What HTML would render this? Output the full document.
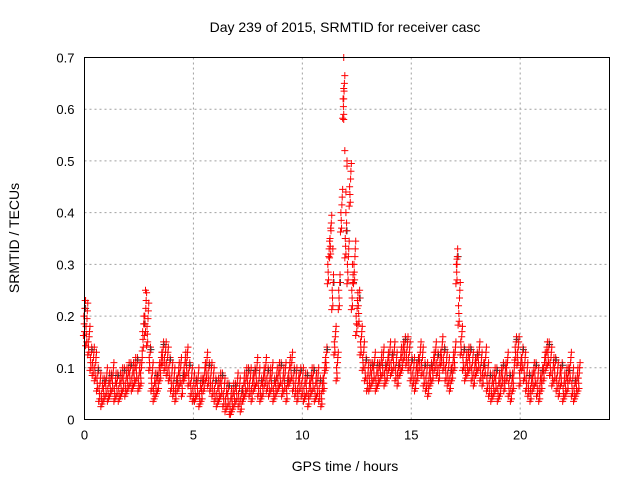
<!DOCTYPE html>
<html><head><meta charset="utf-8"><style>
body{margin:0;background:#fff}
svg{display:block;font-family:"Liberation Sans",sans-serif}
</style></head><body>
<svg id="chart" width="640" height="480">
<text x="345" y="32" text-anchor="middle" font-size="14">Day 239 of 2015, SRMTID for receiver casc</text>
<text transform="translate(19,238) rotate(-90)" text-anchor="middle" font-size="14">SRMTID / TECUs</text>
<text x="345" y="471" text-anchor="middle" font-size="14">GPS time / hours</text>
<g id="grid"></g>
<g id="ticks"></g>
<g id="marks"></g>
<rect x="84.5" y="57.5" width="525" height="362" fill="none" stroke="#000"/>
</svg>
<script>
const xTicks=[0,5,10,15,20];
const yTicks=[0,0.1,0.2,0.3,0.4,0.5,0.6,0.7];
const yTickLabels=["0","0.1","0.2","0.3","0.4","0.5","0.6","0.7"];
const timeStep=0.1;
const srmtid=[0.20,0.18,0.15,0.12,0.11,0.10,
0.08,0.06,0.05,0.06,0.07,
0.06,0.07,0.08,0.06,0.07,0.06,0.07,0.08,0.07,0.08,
0.09,0.08,0.09,0.10,0.08,0.09,
0.17,0.20,0.18,0.12,
0.08,0.06,0.07,0.08,0.10,
0.13,0.12,0.11,0.10,0.08,
0.07,0.06,0.08,0.09,0.07,0.10,0.11,0.09,0.07,0.06,
0.06,0.07,0.05,0.06,0.08,0.10,0.09,0.08,0.07,0.06,
0.05,0.06,0.07,0.05,0.04,0.05,0.03,0.04,0.05,0.06,
0.05,0.04,0.06,0.07,0.08,0.07,0.06,0.08,0.09,0.07,
0.06,0.07,0.09,0.08,0.07,0.08,0.06,0.07,0.08,0.09,
0.07,0.08,0.06,0.09,0.10,0.08,0.07,0.06,0.08,0.07,
0.06,0.07,0.05,0.07,0.08,0.06,0.07,0.06,0.05,0.08,
0.12,0.30,0.35,0.25,0.15,0.10,
0.25,0.40,0.62,0.35,
0.30,0.45,0.25,0.30,0.20,
0.22,0.15,0.12,0.10,0.08,
0.08,0.09,0.10,0.08,0.09,0.10,0.11,0.09,0.10,0.12,
0.11,0.12,0.10,0.09,0.11,0.12,0.14,0.13,0.12,0.10,
0.09,0.08,0.10,0.12,0.11,0.09,0.08,0.07,0.09,0.10,
0.12,0.11,0.10,0.13,0.12,0.10,0.09,0.08,0.10,0.12,
0.30,0.22,0.15,0.12,0.10,
0.11,0.12,0.10,0.09,0.11,
0.12,0.10,0.09,0.11,0.08,0.07,0.06,0.07,0.08,0.06,
0.07,0.09,0.08,0.10,0.07,0.06,0.08,0.14,0.13,0.09,
0.12,0.10,0.08,0.07,0.06,0.08,0.09,0.07,0.06,0.08,
0.10,0.12,0.13,0.11,0.09,0.10,0.08,0.07,0.09,0.06,
0.07,0.08,0.10,0.07,0.06,0.07,0.08];
const peaks=[[11.9,0.70],[11.9,0.64],[11.9,0.62],[11.9,0.58],[11.95,0.52],[12.05,0.50],[12.05,0.49],[12.0,0.44],[12.0,0.40],[11.3,0.37],[11.4,0.33],[12.3,0.30],[17.1,0.31],[17.1,0.30],[2.8,0.25],[0.05,0.23]];
const NS="http://www.w3.org/2000/svg";
const X0=84.5,X1=609.5,Y0=419.5,Y1=57.5,XMAX=24.1,YMAX=0.7;
function sx(v){return X0+v/XMAX*(X1-X0);}
function sy(v){return Y0-v/YMAX*(Y0-Y1);}
const grid=document.getElementById('grid'),ticks=document.getElementById('ticks'),marks=document.getElementById('marks');
function mk(t,a,p){const e=document.createElementNS(NS,t);for(const k in a)e.setAttribute(k,a[k]);p.appendChild(e);return e;}
xTicks.forEach(t=>{const x=sx(t);
 if(t>0){const g=mk('line',{x1:x,x2:x,y1:Y1,y2:Y0,stroke:'#a0a0a0','stroke-dasharray':'2,3'},grid);
 
 }
 const l=mk('text',{x:x,y:Y0+20,'text-anchor':'middle','font-size':13},ticks);l.textContent=t;
 
 
});
yTicks.forEach((t,i)=>{const y=sy(t);
 if(t>0&&t<0.7){const g=mk('line',{x1:X0,x2:X1,y1:y,y2:y,stroke:'#a0a0a0','stroke-dasharray':'2,3'},grid);
 
 }
 const l=mk('text',{x:X0-10,y:y+5,'text-anchor':'end','font-size':13},ticks);l.textContent=yTickLabels[i];
 
 
});
function plus(x,y,c){const p=mk('path',{d:`M${x-3.5},${y}h7M${x},${y-3.5}v7`,stroke:c,'stroke-width':1,fill:'none'},marks);
 
 }
const spread=[[-0.03,0],[0.03,0.02],[0,-0.02],[0.05,0.03],[-0.05,-0.025],[0.015,0.01],[-0.015,-0.01]];
srmtid.forEach((v,i)=>{const t=i*timeStep;
 spread.forEach(([dt,dv],k)=>{
  if(k==3&&i%3==0){plus(sx(t+dt),sy(v+dv*0.5),'#333');return;}
  const vv=Math.max(0.01,v+dv*(v>0.15?1.5:1));plus(sx(t+dt),sy(vv),'#f00');});
});
peaks.forEach(([t,v])=>plus(sx(t),sy(v),'#f00'));
</script>
</body></html>
